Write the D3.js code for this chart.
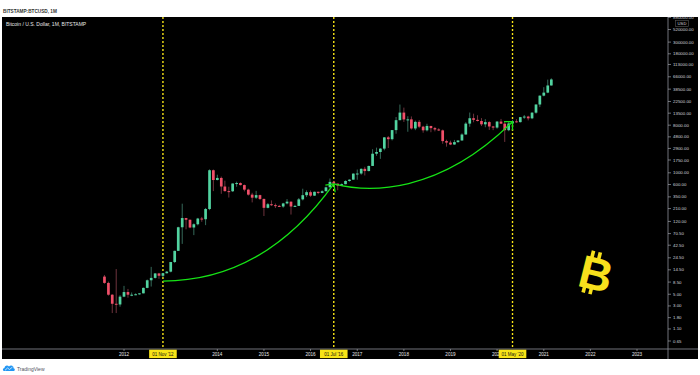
<!DOCTYPE html>
<html>
<head>
<meta charset="utf-8">
<script src="https://cdn.jsdelivr.net/npm/d3@7"></script>
<style>
body { margin: 0; background: #fff; }
svg { display: block; }
text { font-family: "Liberation Sans", Arial, sans-serif; }
</style>
</head>
<body>
<svg id="chart" width="700" height="375"></svg>
<script>
// monthly candles, BITSTAMP BTCUSD, first candle Aug 2011
var firstMonth = "2011-08-01";
var opens = [
    10.8, 8.2, 4.9, 3.3, 3.2,
    4.5, 5.5, 4.9, 4.9, 5.0, 5.2, 6.6, 9.2, 10.2, 12.4, 11.2, 12.5,
    13.4, 20.4, 33.2, 93, 139, 129, 92, 106, 136, 132, 206, 1120,
    730, 800, 550, 450, 447, 627, 640, 586, 480, 386, 338, 378,
    320, 217, 254, 244, 236, 230, 263, 284, 230, 236, 314, 377,
    430, 369, 437, 416, 448, 531, 673, 624, 573, 609, 700, 742,
    966, 970, 1190, 1080, 1350, 2300, 2480, 2875, 4700, 4340, 6450, 9950,
    13850, 10265, 10300, 6925, 9240, 7490, 6390, 7730, 7030, 6630, 6370, 3990,
    3740, 3440, 3820, 4100, 5320, 8560, 10830, 10090, 9600, 8300, 9150, 7550,
    7200, 9350, 8540, 6420, 8630, 9450, 9140, 11350, 11650, 10780, 13800, 19700,
    28990, 33100, 45200
];
var highs = [
    11.6, 8.7, 5.0, 15.0, 4.8,
    7.2, 6.3, 5.4, 5.2, 5.2, 6.7, 9.5, 16.5, 12.6, 12.7, 12.7, 13.8,
    20.5, 33.5, 95, 260, 140, 130, 110, 140, 146, 216, 1163, 1155,
    920, 850, 710, 545, 630, 680, 660, 600, 500, 418, 455, 385,
    325, 268, 300, 262, 247, 270, 318, 286, 247, 333, 500, 465,
    462, 440, 440, 466, 547, 780, 705, 626, 628, 720, 753, 975,
    1155, 1210, 1300, 1365, 2800, 3000, 2930, 4760, 4980, 6470, 11400, 19666,
    17200, 11800, 11700, 9770, 9990, 7780, 8500, 7760, 7410, 7000, 6600, 4240,
    4070, 4200, 4150, 5600, 9100, 13880, 13200, 12320, 10900, 10400, 9500, 7750,
    9580, 10500, 9190, 9460, 10070, 10380, 11450, 12480, 12070, 14100, 19860, 29300,
    41950, 58350, 61780
];
var lows = [
    7.9, 4.7, 2.2, 2.2, 2.9,
    4.4, 4.3, 4.6, 4.8, 4.9, 5.2, 6.5, 7.0, 9.9, 9.8, 10.5, 12.4,
    13.0, 19.5, 33.0, 45, 85, 89, 66, 101, 118, 102, 196, 450,
    720, 400, 440, 340, 435, 545, 575, 445, 370, 275, 320, 305,
    152, 212, 236, 215, 225, 218, 253, 162, 225, 235, 300, 347,
    350, 366, 394, 412, 444, 530, 610, 467, 569, 606, 680, 740,
    740, 920, 890, 1065, 1350, 2100, 1840, 2670, 2950, 4110, 5500, 9900,
    9200, 6000, 6600, 6430, 7030, 5750, 6080, 5880, 6100, 6200, 3550, 3130,
    3350, 3400, 3700, 4070, 5320, 7450, 9070, 9400, 7700, 7300, 6500, 6430,
    6860, 8450, 3850, 6150, 8100, 8900, 8970, 10550, 9850, 10400, 13200, 17600,
    28150, 32300, 45000
];
var closes = [
    8.2, 4.9, 3.3, 3.2, 4.5,
    5.5, 4.9, 4.9, 5.0, 5.2, 6.6, 9.2, 10.2, 12.4, 11.2, 12.5, 13.4,
    20.4, 33.2, 93, 139, 129, 92, 106, 136, 132, 206, 1120, 730,
    800, 550, 450, 447, 627, 640, 586, 480, 386, 338, 378, 320,
    217, 254, 244, 236, 230, 263, 284, 230, 236, 314, 377, 430,
    369, 437, 416, 448, 531, 673, 624, 573, 609, 700, 742, 966,
    970, 1190, 1080, 1350, 2300, 2480, 2875, 4700, 4340, 6450, 9950, 13850,
    10265, 10300, 6925, 9240, 7490, 6390, 7730, 7030, 6630, 6370, 3990, 3740,
    3440, 3820, 4100, 5320, 8560, 10830, 10090, 9600, 8300, 9150, 7550, 7200,
    9350, 8540, 6420, 8630, 9450, 9140, 11350, 11650, 10780, 13800, 19700, 28990,
    33100, 45200, 58800
];

var priceTicks = [880000, 520000, 300000, 180000, 113000, 66000, 38500, 22500, 13500, 8000, 4800,
    2900, 1750, 1000, 600, 350, 210, 120, 70.5, 42.5, 24.5, 14.5, 8.5, 5, 3, 1.8, 1.1, 0.65];
// 2013 sits under the "01 Nov '12" tag in the reference
var yearTicks = [2012, 2014, 2015, 2016, 2017, 2018, 2019, 2020, 2021, 2022, 2023];

var markerDates = ["2012-11-01", "2016-07-01", "2020-05-01"];
var markerLabels = ["01 Nov '12", "01 Jul '16", "01 May '20"];

// drawn curves: [date, price] points
var arcOne = [["2012-11-01", 8.9], ["2015-01-01", 8.9], ["2016-07-01", 618]];
var arcTwo = [["2016-07-01", 618], ["2017-04-01", 419], ["2018-10-01", 383], ["2020-05-01", 9290]];

var parse = d3.timeParse("%Y-%m-%d");
var months = d3.timeMonth.range(parse(firstMonth), d3.timeMonth.offset(parse(firstMonth), closes.length));
var candles = months.map(function (m, i) {
    return { date: m, open: opens[i], high: highs[i], low: lows[i], close: closes[i] };
});

var svg = d3.select("#chart");
var plotLeft = 2, plotRight = 668, plotTop = 17, plotBottom = 349, panelBottom = 359;

var x = d3.scaleTime()
    .domain([new Date(2012, 0, 1), new Date(2023, 0, 1)])
    .range([124, 637]);
var y = d3.scaleLog()
    .domain([0.4585, 897000])
    .range([plotBottom, plotTop]);

// background panel
svg.append("rect").attr("x", 0).attr("y", 0).attr("width", 700).attr("height", 375).attr("fill", "#fff");
svg.append("rect")
    .attr("x", plotLeft).attr("y", plotTop)
    .attr("width", 698 - plotLeft).attr("height", panelBottom - plotTop)
    .attr("fill", "#000");

svg.append("defs").append("clipPath").attr("id", "plot-clip")
    .append("rect")
    .attr("x", plotLeft).attr("y", plotTop)
    .attr("width", plotRight - plotLeft).attr("height", plotBottom - plotTop);

var plot = svg.append("g").attr("clip-path", "url(#plot-clip)");

// dotted date markers
plot.append("g").selectAll("line")
    .data(markerDates)
    .enter().append("line")
    .attr("x1", function (d) { return x(parse(d)); })
    .attr("x2", function (d) { return x(parse(d)); })
    .attr("y1", plotTop)
    .attr("y2", plotBottom)
    .attr("stroke", "#f7e417")
    .attr("stroke-width", 1.4)
    .attr("stroke-dasharray", "2,2");

// candles
var upColor = "#52d3a0", downColor = "#f04f69";
var candle = plot.append("g").attr("class", "candles")
    .selectAll("g")
    .data(candles)
    .enter().append("g");

candle.append("line")
    .attr("x1", function (d) { return x(d.date); })
    .attr("x2", function (d) { return x(d.date); })
    .attr("y1", function (d) { return y(d.high); })
    .attr("y2", function (d) { return y(d.low); })
    .attr("stroke", function (d) { return d.close >= d.open ? "#3b7563" : "#7a3944"; })
    .attr("stroke-width", 0.9);

candle.append("rect")
    .attr("x", function (d) { return x(d.date) - 1.35; })
    .attr("width", 2.7)
    .attr("y", function (d) { return y(Math.max(d.open, d.close)); })
    .attr("height", function (d) {
        return Math.max(1, Math.abs(y(d.open) - y(d.close)));
    })
    .attr("fill", function (d) { return d.close >= d.open ? upColor : downColor; });

// green curves with arrow heads
function pt(p) { return [x(parse(p[0])), y(p[1])]; }

function arrowHead(g, from, to) {
    var ang = Math.atan2(from[1] - to[1], from[0] - to[0]);
    [-Math.PI / 4, Math.PI / 4].forEach(function (a) {
        g.append("line")
            .attr("x1", to[0]).attr("y1", to[1])
            .attr("x2", to[0] + 8.5 * Math.cos(ang + a))
            .attr("y2", to[1] + 8.5 * Math.sin(ang + a))
            .attr("stroke", "#16e316").attr("stroke-width", 1.3);
    });
}

var curves = plot.append("g").attr("class", "curves");
var a1 = arcOne.map(pt);
var p1 = d3.path();
p1.moveTo(a1[0][0], a1[0][1]);
p1.quadraticCurveTo(a1[1][0], a1[1][1], a1[2][0], a1[2][1]);
curves.append("path").attr("d", p1.toString())
    .attr("fill", "none").attr("stroke", "#16e316").attr("stroke-width", 1.3);
arrowHead(curves, a1[1], a1[2]);

var a2 = arcTwo.map(pt);
var p2 = d3.path();
p2.moveTo(a2[0][0], a2[0][1]);
p2.bezierCurveTo(a2[1][0], a2[1][1], a2[2][0], a2[2][1], a2[3][0], a2[3][1]);
curves.append("path").attr("d", p2.toString())
    .attr("fill", "none").attr("stroke", "#16e316").attr("stroke-width", 1.3);
arrowHead(curves, a2[2], a2[3]);

// bitcoin logo
var logo = svg.append("g").attr("transform", "translate(596,274) rotate(14)");
logo.append("text")
    .attr("x", 0).attr("y", 16)
    .attr("text-anchor", "middle")
    .attr("font-size", 46)
    .attr("font-weight", "bold")
    .attr("fill", "#f7e01c")
    .text("B");
[-8, -1].forEach(function (bx) {
    logo.append("rect").attr("x", bx - 1.8).attr("y", -22).attr("width", 3.6).attr("height", 7).attr("fill", "#f7e01c");
    logo.append("rect").attr("x", bx - 1.8).attr("y", 14).attr("width", 3.6).attr("height", 7).attr("fill", "#f7e01c");
});

// axes lines
svg.append("line")
    .attr("x1", plotLeft).attr("x2", 698).attr("y1", plotBottom).attr("y2", plotBottom)
    .attr("stroke", "#8d9099").attr("stroke-width", 0.8);
svg.append("line")
    .attr("x1", plotRight).attr("x2", plotRight).attr("y1", plotTop).attr("y2", panelBottom)
    .attr("stroke", "#8d9099").attr("stroke-width", 0.8);

// right price axis
var yAxis = svg.append("g").attr("class", "y-axis");
yAxis.selectAll("line")
    .data(priceTicks)
    .enter().append("line")
    .attr("x1", plotRight).attr("x2", plotRight + 3)
    .attr("y1", function (d) { return y(d); })
    .attr("y2", function (d) { return y(d); })
    .attr("stroke", "#b2b5be").attr("stroke-width", 0.6);
yAxis.selectAll("text")
    .data(priceTicks)
    .enter().append("text")
    .attr("x", plotRight + 5)
    .attr("y", function (d) { return y(d); })
    .attr("dy", "0.35em")
    .attr("font-size", 4.4)
    .attr("fill", "#d1d4dc")
    .text(function (d) { return d3.format(".2f")(d); });

// bottom time axis
var xAxis = svg.append("g").attr("class", "x-axis");
xAxis.selectAll("line")
    .data(yearTicks)
    .enter().append("line")
    .attr("x1", function (d) { return x(new Date(d, 0, 1)); })
    .attr("x2", function (d) { return x(new Date(d, 0, 1)); })
    .attr("y1", plotBottom).attr("y2", plotBottom + 2)
    .attr("stroke", "#b2b5be").attr("stroke-width", 0.6);
xAxis.selectAll("text")
    .data(yearTicks)
    .enter().append("text")
    .attr("x", function (d) { return x(new Date(d, 0, 1)); })
    .attr("y", 355.6)
    .attr("text-anchor", "middle")
    .attr("font-size", 4.6)
    .attr("fill", "#e6e7ea")
    .text(function (d) { return d; });

// date marker labels
var markerTag = svg.append("g").selectAll("g")
    .data(markerDates)
    .enter().append("g")
    .attr("transform", function (d) { return "translate(" + x(parse(d)) + ",354)"; });
markerTag.append("rect")
    .attr("x", -13.8).attr("y", -4.3).attr("width", 27.6).attr("height", 8.4)
    .attr("fill", "#f7e417");
markerTag.append("text")
    .attr("text-anchor", "middle")
    .attr("dy", "0.35em")
    .attr("font-size", 4.5)
    .attr("fill", "#111")
    .text(function (d, i) { return markerLabels[i]; });

// header strip (covers the top label) and titles
svg.append("rect").attr("x", 0).attr("y", 0).attr("width", 700).attr("height", plotTop - 0.5).attr("fill", "#fff");
svg.append("text")
    .attr("x", 3).attr("y", 12.5)
    .attr("font-size", 4.7)
    .attr("font-weight", "bold")
    .attr("fill", "#333")
    .text("BITSTAMP:BTCUSD, 1M");
svg.append("text")
    .attr("x", 6).attr("y", 26)
    .attr("font-size", 5)
    .attr("fill", "#e8e8e8")
    .text("Bitcoin / U.S. Dollar, 1M, BITSTAMP");

var usd = svg.append("g").attr("transform", "translate(682,23.4)");
usd.append("rect").attr("x", -6.5).attr("y", -3).attr("width", 13).attr("height", 6)
    .attr("fill", "#000").attr("stroke", "#555").attr("stroke-width", 0.6);
usd.append("text").attr("text-anchor", "middle").attr("dy", "0.35em")
    .attr("font-size", 4.2).attr("fill", "#d1d4dc").text("USD");

// TradingView mark
var tv = svg.append("g").attr("transform", "translate(3,364)");
tv.append("path")
    .attr("d", "M1,7 C-0.5,7 -0.5,4 1.5,4 C1.5,1.5 4.5,0.5 6,2.5 C7.5,0.5 11,1.5 10.5,4.2 C12.5,4.5 12,7 10.5,7 Z")
    .attr("fill", "#2196f3");
tv.append("path")
    .attr("d", "M2,6.3 L4.5,4 L6.5,5.5 L9.5,3")
    .attr("fill", "none").attr("stroke", "#fff").attr("stroke-width", 0.7);
tv.append("text")
    .attr("x", 14).attr("y", 6.8)
    .attr("font-size", 5)
    .attr("fill", "#50535e")
    .text("TradingView");
</script>
</body>
</html>
